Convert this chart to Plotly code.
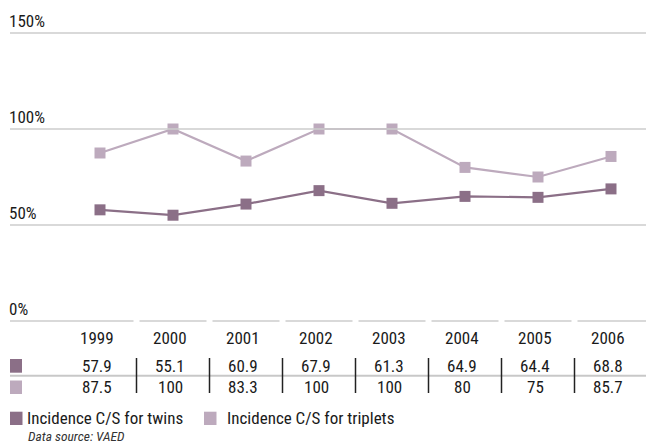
import plotly.graph_objects as go

# Caesarean section incidence for multiple births, Victoria
years = ["1999", "2000", "2001", "2002", "2003", "2004", "2005", "2006"]
twins = [57.9, 55.1, 60.9, 67.9, 61.3, 64.9, 64.4, 68.8]
triplets = [87.5, 100, 83.3, 100, 100, 80, 75, 85.7]
twins_label = "Incidence C/S for twins"
triplets_label = "Incidence C/S for triplets"
y_ticks = [0, 50, 100, 150]
source_note = "Data source: VAED"

TWINS_COLOR = "#8b6f87"
TRIPLETS_COLOR = "#bdaabd"
GRID_COLOR = "#cccccc"
TEXT_COLOR = "#1a1a1a"
FONT = "Roboto Condensed, Arial Narrow, sans-serif"
FS = 17

W, H = 646, 445
X0, DX = 100, 73          # pixel of first category and category spacing
Y0, PX_PER = 321, 1.92    # pixel of 0 % and pixels per percent

xs = list(range(len(years)))


def px_x(p):
    return p / W


def px_y(p):
    return 1 - p / H


def label(**kw):
    base = dict(showarrow=False, xanchor="center", yanchor="middle", borderpad=0,
                font=dict(size=FS, color=TEXT_COLOR, family=FONT))
    base.update(kw)
    return base


fig = go.Figure()
for vals, name, color in [(triplets, triplets_label, TRIPLETS_COLOR),
                          (twins, twins_label, TWINS_COLOR)]:
    fig.add_trace(go.Scatter(
        x=xs, y=vals, name=name, mode="lines+markers",
        line=dict(color=color, width=2.2),
        marker=dict(symbol="square", size=11, color=color),
        hoverinfo="x+y", showlegend=False,
    ))

shapes = []
annotations = []

# horizontal gridlines with labels sitting above them
for t in y_ticks[1:]:
    shapes.append(dict(type="line", xref="paper", yref="y",
                       x0=px_x(10), x1=1, y0=t, y1=t,
                       line=dict(color=GRID_COLOR, width=1.5)))
for t in y_ticks:
    annotations.append(label(xref="paper", yref="y", x=px_x(8), y=t,
                             text=f"{t}%", xanchor="left", yanchor="bottom", yshift=1))

# segmented baseline, one segment per table column
mids = [i + 0.5 for i in xs[:-1]]
for i in xs:
    left = -(X0 - 10) / DX if i == 0 else mids[i - 1] + 3 / DX
    right = (W - X0) / DX if i == xs[-1] else mids[i] - 3 / DX
    shapes.append(dict(type="line", xref="x", yref="y", x0=left, x1=right, y0=0, y1=0,
                       line=dict(color=GRID_COLOR, width=1.5)))

# data table under the chart
ROW_HEAD, ROW_A, ROW_B = 338, 366, 386.5
for i, yr in enumerate(years):
    annotations.append(label(xref="x", yref="paper", x=i, y=px_y(ROW_HEAD),
                             text=yr, xshift=-3))
for row_y, vals in [(ROW_A, twins), (ROW_B, triplets)]:
    for i, v in enumerate(vals):
        annotations.append(label(xref="x", yref="paper", x=i, y=px_y(row_y),
                                 text=f"{v:g}", xshift=-3))

# divider between table rows
shapes.append(dict(type="line", xref="paper", yref="paper",
                   x0=px_x(10), x1=1, y0=px_y(375.8), y1=px_y(375.8),
                   line=dict(color="#c8c8c8", width=2)))
# column separators
for m in mids:
    shapes.append(dict(type="line", xref="x", yref="paper",
                       x0=m, x1=m, y0=px_y(358), y1=px_y(393),
                       line=dict(color="#222222", width=1.5)))
# row swatches
for top, bot, color in [(359, 372.7, TWINS_COLOR), (380.5, 394, TRIPLETS_COLOR)]:
    shapes.append(dict(type="rect", xref="paper", yref="paper",
                       x0=px_x(10), x1=px_x(22), y0=px_y(bot), y1=px_y(top),
                       fillcolor=color, line=dict(width=0)))

# legend
for sx, tx, color, name in [(10, 26, TWINS_COLOR, twins_label),
                            (204, 225.5, TRIPLETS_COLOR, triplets_label)]:
    shapes.append(dict(type="rect", xref="paper", yref="paper",
                       x0=px_x(sx), x1=px_x(sx + 12.5), y0=px_y(425), y1=px_y(411.7),
                       fillcolor=color, line=dict(width=0)))
    annotations.append(label(xref="paper", yref="paper", x=px_x(tx), y=px_y(418.3),
                             text=name, xanchor="left"))

annotations.append(label(xref="paper", yref="paper", x=px_x(27), y=px_y(445),
                         text=f"<i>{source_note}</i>", xanchor="left", yanchor="bottom",
                         font=dict(size=13.5, color="#333333", family=FONT)))

fig.update_layout(
    width=W, height=H,
    margin=dict(l=0, r=0, t=0, b=0),
    paper_bgcolor="white", plot_bgcolor="white",
    xaxis=dict(range=[-X0 / DX, (W - X0) / DX], visible=False, fixedrange=True),
    yaxis=dict(range=[-(H - Y0) / PX_PER, Y0 / PX_PER], visible=False, fixedrange=True),
    shapes=shapes, annotations=annotations,
    font=dict(family=FONT),
)

fig.write_html("out.html")
